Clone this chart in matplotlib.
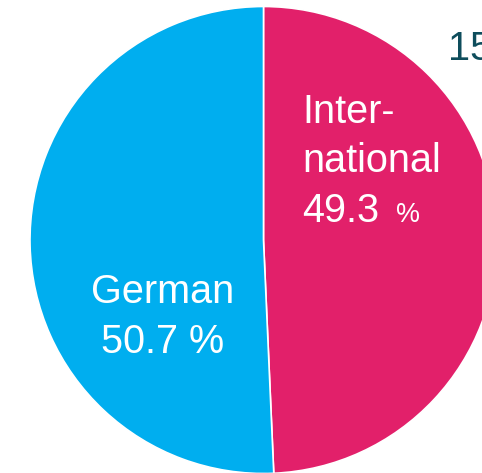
import matplotlib
matplotlib.use("Agg")
import matplotlib.pyplot as plt

# Student share by origin
categories = ["International", "German"]
shares = [49.3, 50.7]
colors = ["#E2206A", "#00AEEF"]
corner_label = "15"

W, H = 482, 473
fig = plt.figure(figsize=(W / 100, H / 100), dpi=100)
ax = fig.add_axes([0, 0, 1, 1])
ax.set_xlim(0, W)
ax.set_ylim(0, H)
ax.axis("off")

cx, cy, r = 263.5, H - 240, 233.5
ax.pie(shares, colors=colors, startangle=90, counterclock=False,
       center=(cx, cy), radius=r, frame=True,
       wedgeprops=dict(edgecolor="white", linewidth=1.2))
ax.set_xlim(0, W)
ax.set_ylim(0, H)
ax.set_aspect("auto")
ax.axis("off")

font = "Liberation Sans"
fs = 28.5

# International label
ax.text(302, H - 123, "Inter-", color="white", fontsize=fs, family=font, ha="left", va="baseline")
ax.text(302, H - 172, "national", color="white", fontsize=fs, family=font, ha="left", va="baseline")
t = ax.text(302, H - 222, f"{shares[0]:.1f}", color="white", fontsize=fs, family=font,
            ha="left", va="baseline")
ax.text(396, H - 222, "%", color="white", fontsize=fs * 0.68, family=font, ha="left", va="baseline")

# German label
ax.text(163, H - 303, categories[1], color="white", fontsize=fs, family=font, ha="center", va="baseline")
ax.text(163, H - 353, f"{shares[1]:.1f} %", color="white", fontsize=fs, family=font,
        ha="center", va="baseline")

# Page number in the corner
ax.text(448, H - 60, corner_label, color="#0E4D5C", fontsize=fs, family=font, ha="left", va="baseline")

fig.savefig("out.png", dpi=100)
